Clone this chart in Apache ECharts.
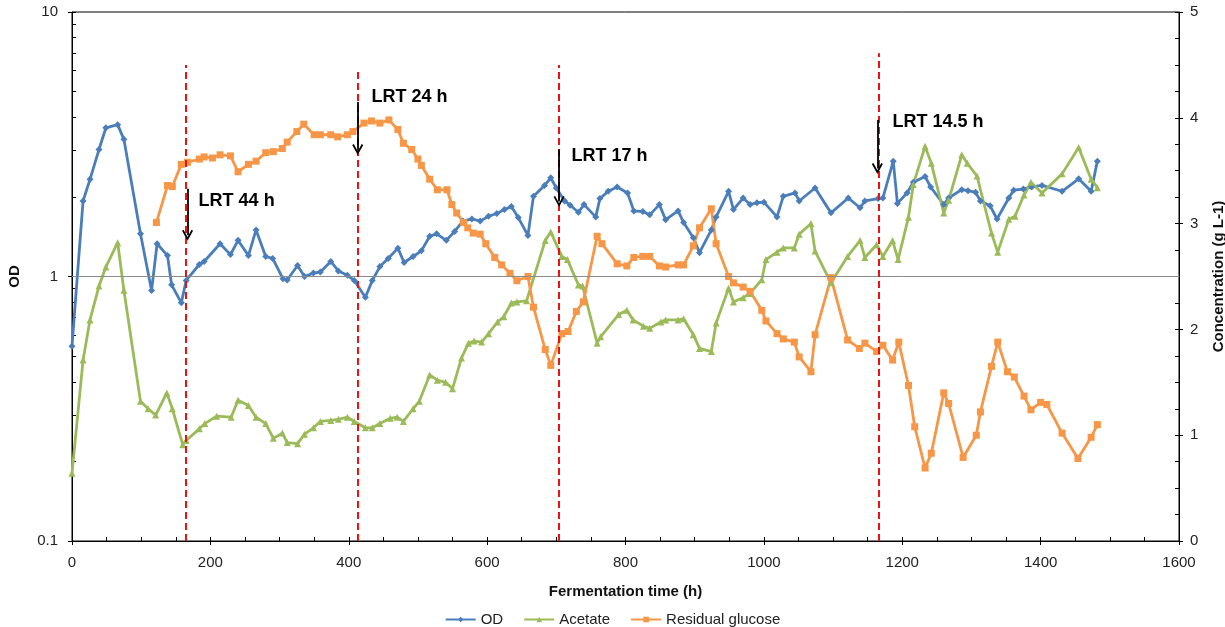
<!DOCTYPE html>
<html>
<head>
<meta charset="utf-8">
<script src="https://cdn.jsdelivr.net/npm/echarts@6/dist/echarts.min.js"></script>
<style>
html,body{margin:0;padding:0;background:#fff;}
#chart{width:1225px;height:627px;}
</style>
</head>
<body>
<div id="chart"></div>
<script>
// ---------- data ----------
const odTime = [0,16,26,39,49,66,75,99,115,123,138,144,158,165,184,191,214,229,240,255,266,280,290,305,311,326,336,349,359,374,385,398,408,424,434,445,457,471,480,493,505,517,527,541,553,565,578,590,602,614,625,635,645,659,667,683,692,700,712,720,732,740,757,763,775,788,803,812,825,835,849,858,876,884,898,907,924,931,949,956,970,980,990,1000,1019,1028,1045,1051,1074,1097,1122,1139,1146,1165,1172,1187,1193,1207,1216,1233,1241,1260,1267,1286,1295,1306,1313,1327,1337,1354,1361,1375,1387,1402,1431,1455,1473,1482];
const odValues = [0.545,1.93,2.33,3.02,3.65,3.75,3.30,1.45,0.885,1.33,1.20,0.93,0.795,0.966,1.11,1.14,1.33,1.21,1.37,1.20,1.50,1.19,1.17,0.98,0.97,1.10,1.00,1.03,1.04,1.14,1.05,1.01,0.966,0.835,0.965,1.09,1.17,1.28,1.13,1.19,1.25,1.42,1.45,1.37,1.48,1.62,1.65,1.62,1.69,1.73,1.79,1.84,1.67,1.43,2.01,2.21,2.36,2.16,1.93,1.86,1.75,1.87,1.68,1.97,2.10,2.18,2.07,1.77,1.76,1.71,1.87,1.64,1.77,1.60,1.40,1.23,1.50,1.68,2.10,1.79,1.98,1.87,1.90,1.91,1.68,2.01,2.07,1.93,2.16,1.74,1.98,1.82,1.93,1.97,1.98,2.73,1.89,2.07,2.27,2.39,2.18,1.87,1.98,2.13,2.11,2.08,1.93,1.85,1.65,1.98,2.12,2.14,2.18,2.21,2.10,2.34,2.10,2.73];

const acetateTime = [0,16,26,39,49,66,75,99,110,121,137,145,160,165,184,192,209,230,240,255,266,280,291,304,311,326,336,349,359,374,385,398,408,424,434,445,460,470,479,493,502,517,528,540,550,563,573,581,592,602,615,624,635,643,657,684,692,708,716,732,738,759,764,790,802,811,826,835,851,858,876,884,898,907,924,931,949,956,970,980,997,1003,1019,1028,1044,1051,1068,1074,1097,1121,1139,1146,1163,1172,1186,1194,1209,1216,1233,1242,1260,1267,1286,1294,1308,1329,1338,1354,1363,1376,1386,1402,1431,1455,1473,1482];
const acetateValues = [0.64,1.71,2.09,2.41,2.59,2.82,2.37,1.32,1.25,1.19,1.40,1.25,0.91,0.95,1.06,1.11,1.18,1.17,1.33,1.28,1.17,1.11,0.97,1.02,0.93,0.92,1.01,1.07,1.13,1.14,1.15,1.17,1.13,1.07,1.07,1.11,1.16,1.17,1.13,1.25,1.32,1.57,1.52,1.50,1.44,1.73,1.87,1.89,1.88,1.96,2.07,2.12,2.25,2.26,2.27,2.84,2.92,2.69,2.66,2.42,2.41,1.87,1.93,2.14,2.18,2.09,2.03,2.01,2.07,2.09,2.09,2.10,1.95,1.82,1.79,2.06,2.39,2.26,2.30,2.34,2.47,2.66,2.73,2.77,2.77,2.90,3.00,2.74,2.44,2.69,2.84,2.68,2.80,2.69,2.84,2.66,3.06,3.37,3.73,3.57,3.10,3.22,3.65,3.57,3.45,2.91,2.73,3.04,3.07,3.27,3.39,3.29,3.47,3.72,3.42,3.34];

const glucoseTime = [122,138,145,158,167,184,191,203,214,229,240,255,266,280,291,304,311,325,335,350,359,374,384,398,406,422,433,445,458,471,479,491,500,505,517,528,542,549,556,566,572,580,590,598,611,621,633,643,659,667,684,692,708,717,729,739,759,766,788,802,812,825,835,849,858,876,884,898,907,924,931,949,956,970,980,997,1003,1019,1028,1044,1051,1068,1074,1097,1121,1138,1146,1163,1172,1186,1195,1209,1218,1233,1242,1260,1267,1288,1307,1313,1329,1338,1352,1362,1376,1386,1400,1409,1431,1454,1473,1482];
const glucoseValues = [3.01,3.36,3.35,3.56,3.58,3.61,3.63,3.62,3.65,3.64,3.49,3.56,3.59,3.67,3.68,3.71,3.77,3.87,3.94,3.84,3.84,3.84,3.82,3.84,3.87,3.95,3.97,3.95,3.98,3.89,3.76,3.70,3.61,3.55,3.42,3.32,3.32,3.18,3.10,3.01,2.96,2.91,2.90,2.81,2.68,2.61,2.53,2.46,2.50,2.21,1.81,1.66,1.96,1.98,2.17,2.26,2.88,2.81,2.62,2.60,2.68,2.69,2.69,2.60,2.59,2.61,2.61,2.79,2.96,3.14,2.81,2.50,2.44,2.40,2.36,2.18,2.08,1.96,1.91,1.88,1.74,1.60,1.95,2.49,1.90,1.82,1.87,1.79,1.85,1.71,1.88,1.47,1.08,0.69,0.83,1.40,1.30,0.79,1.00,1.22,1.65,1.88,1.60,1.55,1.37,1.24,1.31,1.29,1.02,0.78,0.98,1.10];

// axis ticks
const xLabelTicks = [0,200,400,600,800,1000,1200,1400,1600];
const odMinorTicks = [0.1,0.2,0.3,0.4,0.5,0.6,0.7,0.8,0.9,1,2,3,4,5,6,7,8,9,10];

// LRT annotations (values on time / concentration axes)
const lrtLabels = ['LRT 44 h','LRT 24 h','LRT 17 h','LRT 14.5 h'];
const lrtLineTime = [164,413,704,1166];
const lrtLineTop = [4.50,4.44,4.50,4.61];
const lrtArrowTime = [167,413,704,1164];
const lrtArrowFrom = [3.33,4.15,3.70,3.98];
const lrtArrowTo = [2.89,3.70,3.21,3.52];
const lrtLabelTime = [183,433,722,1186];
const lrtLabelConc = [3.21,4.20,3.64,3.96];

// ---------- chart ----------
const FONT = 'Liberation Sans, Arial, sans-serif';
const zip = (a,b) => a.map((v,i)=>[v,b[i]]);
// open chevron with its point at the bottom
const chevron = 'path://M50,100 L100,14 L86,6 L50,68 L14,6 L0,14 Z';

const chart = echarts.init(document.getElementById('chart'), null, {renderer:'canvas'});

const lineMarks = lrtLineTime.map((t,i)=>[
  {coord:[t,0], symbol:'none'},
  {coord:[t,lrtLineTop[i]], symbol:'none'}
]);
const arrowMarks = lrtArrowTime.map((t,i)=>[
  {coord:[t,lrtArrowFrom[i]], symbol:'none', lineStyle:{color:'#000', width:1.8, type:'solid'}},
  {coord:[t,lrtArrowTo[i]], symbol:chevron, symbolSize:[11,11], symbolRotate:0, itemStyle:{color:'#000'}, lineStyle:{color:'#000', width:1.8, type:'solid'}}
]);

const option = {
  animation:false,
  backgroundColor:'#fff',
  textStyle:{fontFamily:FONT},
  grid:{left:72, right:46, top:12, bottom:86, show:true, borderColor:'#000', borderWidth:1, backgroundColor:'transparent', containLabel:false, outerBoundsMode:'none'},
  legend:{
    data:['OD','Acetate','Residual glucose'],
    top:607, left:'center',
    itemWidth:30, itemHeight:7, itemGap:20,
    textStyle:{fontSize:15, color:'#222', fontFamily:FONT}
  },
  xAxis:[
    {type:'value', min:0, max:1600, interval:200, position:'bottom',
     axisLine:{show:true, onZero:false, lineStyle:{color:'#000', width:1}},
     axisTick:{show:true, inside:false, length:4, lineStyle:{color:'#000'}},
     axisLabel:{fontSize:15, color:'#222', margin:14, fontFamily:FONT,
       customValues:xLabelTicks, formatter:v=>String(v)},
     splitLine:{show:false},
     name:'Fermentation time (h)', nameLocation:'middle', nameGap:43,
     nameTextStyle:{fontWeight:'bold', fontSize:15, color:'#111', fontFamily:FONT}},
    {type:'value', min:0, max:1600, interval:50, position:'bottom',
     axisLine:{show:false, onZero:false},
     axisTick:{show:true, inside:true, length:4, lineStyle:{color:'#000'}},
     axisLabel:{show:false}, splitLine:{show:false}}
  ],
  yAxis:[
    {type:'log', logBase:10, min:0.1, max:10, position:'left',
     axisLine:{show:true, onZero:false, lineStyle:{color:'#000', width:1}},
     axisTick:{show:true, inside:false, length:4, lineStyle:{color:'#000'}},
     axisLabel:{fontSize:15, color:'#222', margin:14, fontFamily:FONT,
       formatter:v=>String(+(+v).toPrecision(3))},
     splitLine:{show:false},
     name:'OD', nameLocation:'middle', nameGap:50,
     nameTextStyle:{fontWeight:'bold', fontSize:15, color:'#111', fontFamily:FONT}},
    {type:'log', logBase:10, min:0.1, max:10, position:'left',
     axisLine:{show:false, onZero:false},
     axisTick:{show:true, inside:true, length:4, lineStyle:{color:'#000'}, customValues:odMinorTicks},
     axisLabel:{show:false}, splitLine:{show:false}},
    {type:'value', min:0, max:5, interval:1, position:'right',
     axisLine:{show:true, onZero:false, lineStyle:{color:'#000', width:1}},
     axisTick:{show:true, inside:false, length:4, lineStyle:{color:'#000'}},
     axisLabel:{fontSize:15, color:'#222', margin:11, fontFamily:FONT},
     splitLine:{show:false},
     name:'Concentration (g L-1)', nameLocation:'middle', nameGap:32, nameRotate:90,
     nameTextStyle:{fontWeight:'bold', fontSize:15, color:'#111', fontFamily:FONT}},
    {type:'value', min:0, max:5, interval:0.25, position:'right',
     axisLine:{show:false, onZero:false},
     axisTick:{show:true, inside:true, length:4, lineStyle:{color:'#000'}},
     axisLabel:{show:false}, splitLine:{show:false}}
  ],
  series:[
    {name:'refLine', type:'line', xAxisIndex:0, yAxisIndex:0, data:[], z:1, silent:true,
     markLine:{silent:true, symbol:'none', label:{show:false},
       lineStyle:{color:'#8c8c8c', width:1, type:'solid'},
       data:[{yAxis:1}]}},
    {name:'OD', type:'line', xAxisIndex:0, yAxisIndex:0, data:zip(odTime,odValues),
     symbol:'diamond', symbolSize:7, showSymbol:true,
     lineStyle:{width:2.8, color:'#4A7EBB'}, itemStyle:{color:'#4A7EBB'}, z:3},
    {name:'Acetate', type:'line', xAxisIndex:0, yAxisIndex:2, data:zip(acetateTime,acetateValues),
     symbol:'triangle', symbolSize:7, showSymbol:true,
     lineStyle:{width:2.8, color:'#9BBB59'}, itemStyle:{color:'#9BBB59'}, z:3},
    {name:'Residual glucose', type:'line', xAxisIndex:0, yAxisIndex:2, data:zip(glucoseTime,glucoseValues),
     symbol:'rect', symbolSize:7, showSymbol:true,
     lineStyle:{width:2.8, color:'#F79646'}, itemStyle:{color:'#F79646'}, z:3},
    {name:'annotations', type:'line', xAxisIndex:0, yAxisIndex:2, data:[], z:5, silent:true,
     markLine:{silent:true, symbol:'none', label:{show:false},
       lineStyle:{color:'#EE1111', width:2, type:[7,4]},
       data:lineMarks.concat(arrowMarks)},
     markPoint:{silent:true, symbol:'circle', symbolSize:0,
       label:{show:true, position:'right', distance:0, fontSize:18, fontWeight:'bold', color:'#000', fontFamily:FONT},
       data:lrtLabels.map((s,i)=>({coord:[lrtLabelTime[i], lrtLabelConc[i]], value:s, label:{formatter:s}}))}}
  ]
};
chart.setOption(option);
</script>
</body>
</html>
